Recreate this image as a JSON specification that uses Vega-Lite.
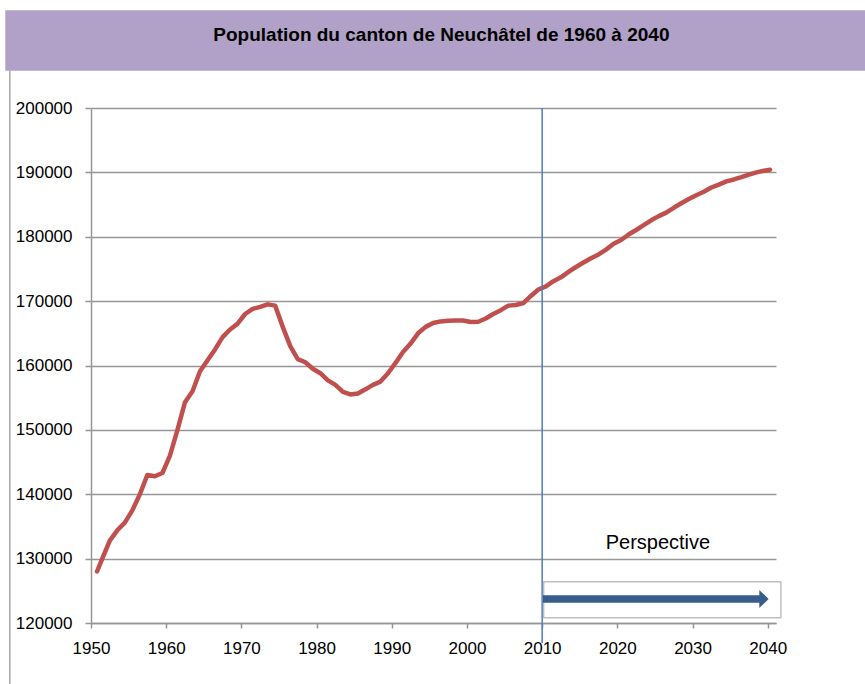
{
  "$schema": "https://vega.github.io/schema/vega-lite/v6.json",
  "width": 685,
  "height": 515,
  "autosize": {"type": "none"},
  "padding": {"left": 91, "top": 108, "right": 89, "bottom": 61},
  "background": "white",
  "config": {
    "font": "Liberation Sans",
    "view": {"stroke": null},
    "axis": {"labelFont": "Liberation Sans", "labelColor": "#000000", "labelFontSize": 17, "labelFlush": false, "labelOverlap": false, "domainColor": "#969696", "tickColor": "#969696", "domainWidth": 1.5, "tickWidth": 1.5, "gridColor": "#969696", "gridWidth": 1.5, "gridOpacity": 1, "title": null}
  },
  "layer": [
    {
      "data": {"values": [{}]},
      "mark": {"type": "rect", "fill": "#B1A0C7", "strokeWidth": 0},
      "encoding": {
        "x": {"datum": 1938.6, "type": "quantitative", "scale": {"domain": [1950, 2041.1], "nice": false, "zero": false}},
        "x2": {"datum": 2054},
        "y": {"datum": 215200, "type": "quantitative", "scale": {"domain": [120000, 200000], "nice": false, "zero": false}},
        "y2": {"datum": 205800}
      }
    },
    {
      "data": {"values": [{}]},
      "mark": {"type": "rule", "stroke": "#A6A6A6", "strokeWidth": 1.5},
      "encoding": {
        "x": {"datum": 1939.2, "type": "quantitative", "scale": {"domain": [1950, 2041.1], "nice": false, "zero": false}},
        "y": {"datum": 205800, "type": "quantitative", "scale": {"domain": [120000, 200000], "nice": false, "zero": false}},
        "y2": {"datum": 110000}
      }
    },
    {
      "data": {"values": [{}]},
      "mark": {"type": "text", "font": "Liberation Sans", "fontSize": 19, "fontWeight": "bold", "fill": "#000000", "align": "center", "baseline": "middle"},
      "encoding": {
        "x": {"datum": 1996.6, "type": "quantitative", "scale": {"domain": [1950, 2041.1], "nice": false, "zero": false}},
        "y": {"datum": 211400, "type": "quantitative", "scale": {"domain": [120000, 200000], "nice": false, "zero": false}},
        "text": {"value": "Population du canton de Neuchâtel de 1960 à 2040"}
      }
    },
    {
      "data": {
        "values": [
          {"year": 1950.8, "population": 128000}, {"year": 1951.5, "population": 130000},
          {"year": 1952.5, "population": 132800}, {"year": 1953.5, "population": 134400},
          {"year": 1954.5, "population": 135600}, {"year": 1955.5, "population": 137500},
          {"year": 1956.5, "population": 140000}, {"year": 1957.5, "population": 143000},
          {"year": 1958.5, "population": 142800}, {"year": 1959.5, "population": 143300},
          {"year": 1960.5, "population": 146000}, {"year": 1961.5, "population": 150000},
          {"year": 1962.5, "population": 154300}, {"year": 1963.5, "population": 156000},
          {"year": 1964.5, "population": 159100}, {"year": 1965.5, "population": 160800},
          {"year": 1966.5, "population": 162500}, {"year": 1967.5, "population": 164400},
          {"year": 1968.5, "population": 165600}, {"year": 1969.5, "population": 166500},
          {"year": 1970.5, "population": 168000}, {"year": 1971.5, "population": 168800},
          {"year": 1972.5, "population": 169100}, {"year": 1973.5, "population": 169500},
          {"year": 1974.5, "population": 169300}, {"year": 1975.5, "population": 166000},
          {"year": 1976.5, "population": 163000}, {"year": 1977.5, "population": 161000},
          {"year": 1978.5, "population": 160500}, {"year": 1979.5, "population": 159500},
          {"year": 1980.5, "population": 158800}, {"year": 1981.5, "population": 157700},
          {"year": 1982.5, "population": 157000}, {"year": 1983.5, "population": 155900},
          {"year": 1984.5, "population": 155500}, {"year": 1985.5, "population": 155650},
          {"year": 1986.5, "population": 156300}, {"year": 1987.5, "population": 157000},
          {"year": 1988.5, "population": 157500}, {"year": 1989.5, "population": 158800},
          {"year": 1990.5, "population": 160400}, {"year": 1991.5, "population": 162100},
          {"year": 1992.5, "population": 163400}, {"year": 1993.5, "population": 165000},
          {"year": 1994.5, "population": 166000}, {"year": 1995.5, "population": 166600},
          {"year": 1996.5, "population": 166850}, {"year": 1997.5, "population": 166950},
          {"year": 1998.5, "population": 167000}, {"year": 1999.5, "population": 167000},
          {"year": 2000.5, "population": 166750}, {"year": 2001.5, "population": 166800},
          {"year": 2002.5, "population": 167300}, {"year": 2003.5, "population": 168000},
          {"year": 2004.5, "population": 168600}, {"year": 2005.5, "population": 169300},
          {"year": 2006.5, "population": 169400}, {"year": 2007.5, "population": 169700},
          {"year": 2008.5, "population": 170800}, {"year": 2009.5, "population": 171800},
          {"year": 2010.5, "population": 172300}, {"year": 2011.5, "population": 173100},
          {"year": 2012.5, "population": 173700}, {"year": 2013.5, "population": 174550},
          {"year": 2014.5, "population": 175300}, {"year": 2015.5, "population": 176000},
          {"year": 2016.5, "population": 176650}, {"year": 2017.5, "population": 177250},
          {"year": 2018.5, "population": 178000}, {"year": 2019.5, "population": 178900},
          {"year": 2020.5, "population": 179500}, {"year": 2021.5, "population": 180350},
          {"year": 2022.5, "population": 181050}, {"year": 2023.5, "population": 181800},
          {"year": 2024.5, "population": 182550}, {"year": 2025.5, "population": 183200},
          {"year": 2026.5, "population": 183750}, {"year": 2027.5, "population": 184500},
          {"year": 2028.5, "population": 185200}, {"year": 2029.5, "population": 185850},
          {"year": 2030.5, "population": 186450}, {"year": 2031.5, "population": 187000},
          {"year": 2032.5, "population": 187650}, {"year": 2033.5, "population": 188100},
          {"year": 2034.5, "population": 188600}, {"year": 2035.5, "population": 188900},
          {"year": 2036.5, "population": 189250}, {"year": 2037.5, "population": 189650},
          {"year": 2038.5, "population": 190000}, {"year": 2039.5, "population": 190250},
          {"year": 2040.3, "population": 190400}
        ]
      },
      "mark": {"type": "line", "stroke": "#C0504D", "strokeWidth": 4.5, "strokeCap": "round", "strokeJoin": "round"},
      "encoding": {
        "x": {"field": "year", "type": "quantitative", "scale": {"domain": [1950, 2041.1], "nice": false, "zero": false},
              "axis": {"values": [1950, 1960, 1970, 1980, 1990, 2000, 2010, 2020, 2030, 2040], "format": "d", "grid": false, "tickSize": 5, "labelPadding": 12}},
        "y": {"field": "population", "type": "quantitative", "scale": {"domain": [120000, 200000], "nice": false, "zero": false},
              "axis": {"values": [120000, 130000, 140000, 150000, 160000, 170000, 180000, 190000, 200000], "format": "d", "grid": true, "tickSize": 6, "labelPadding": 13}}
      }
    },
    {
      "data": {"values": [{}]},
      "mark": {"type": "rule", "stroke": "#4A7EBB", "strokeWidth": 1.5},
      "encoding": {
        "x": {"datum": 2010, "type": "quantitative", "scale": {"domain": [1950, 2041.1], "nice": false, "zero": false}},
        "y": {"datum": 200000, "type": "quantitative", "scale": {"domain": [120000, 200000], "nice": false, "zero": false}},
        "y2": {"datum": 116900}
      }
    },
    {
      "data": {"values": [{}]},
      "mark": {"type": "rect", "fill": "#FFFFFF", "stroke": "#BFBFBF", "strokeWidth": 1.5},
      "encoding": {
        "x": {"datum": 2010.2, "type": "quantitative", "scale": {"domain": [1950, 2041.1], "nice": false, "zero": false}},
        "x2": {"datum": 2041.75},
        "y": {"datum": 126420, "type": "quantitative", "scale": {"domain": [120000, 200000], "nice": false, "zero": false}},
        "y2": {"datum": 120820}
      }
    },
    {
      "data": {"values": [{}]},
      "mark": {"type": "rule", "stroke": "#385D8A", "strokeWidth": 7.5},
      "encoding": {
        "x": {"datum": 2010.1, "type": "quantitative", "scale": {"domain": [1950, 2041.1], "nice": false, "zero": false}},
        "x2": {"datum": 2039.0},
        "y": {"datum": 123730, "type": "quantitative", "scale": {"domain": [120000, 200000], "nice": false, "zero": false}}
      }
    },
    {
      "data": {"values": [{}]},
      "mark": {"type": "point", "shape": "M -0.52 -1 L 0.52 0 L -0.52 1 Z", "filled": true, "fill": "#385D8A", "strokeWidth": 0, "opacity": 1, "size": 324},
      "encoding": {
        "x": {"datum": 2039.5, "type": "quantitative", "scale": {"domain": [1950, 2041.1], "nice": false, "zero": false}},
        "y": {"datum": 123730, "type": "quantitative", "scale": {"domain": [120000, 200000], "nice": false, "zero": false}}
      }
    },
    {
      "data": {"values": [{}]},
      "mark": {"type": "text", "font": "Liberation Sans", "fontSize": 20, "fontWeight": "normal", "fill": "#000000", "align": "center", "baseline": "middle"},
      "encoding": {
        "x": {"datum": 2025.4, "type": "quantitative", "scale": {"domain": [1950, 2041.1], "nice": false, "zero": false}},
        "y": {"datum": 132470, "type": "quantitative", "scale": {"domain": [120000, 200000], "nice": false, "zero": false}},
        "text": {"value": "Perspective"}
      }
    }
  ]
}
